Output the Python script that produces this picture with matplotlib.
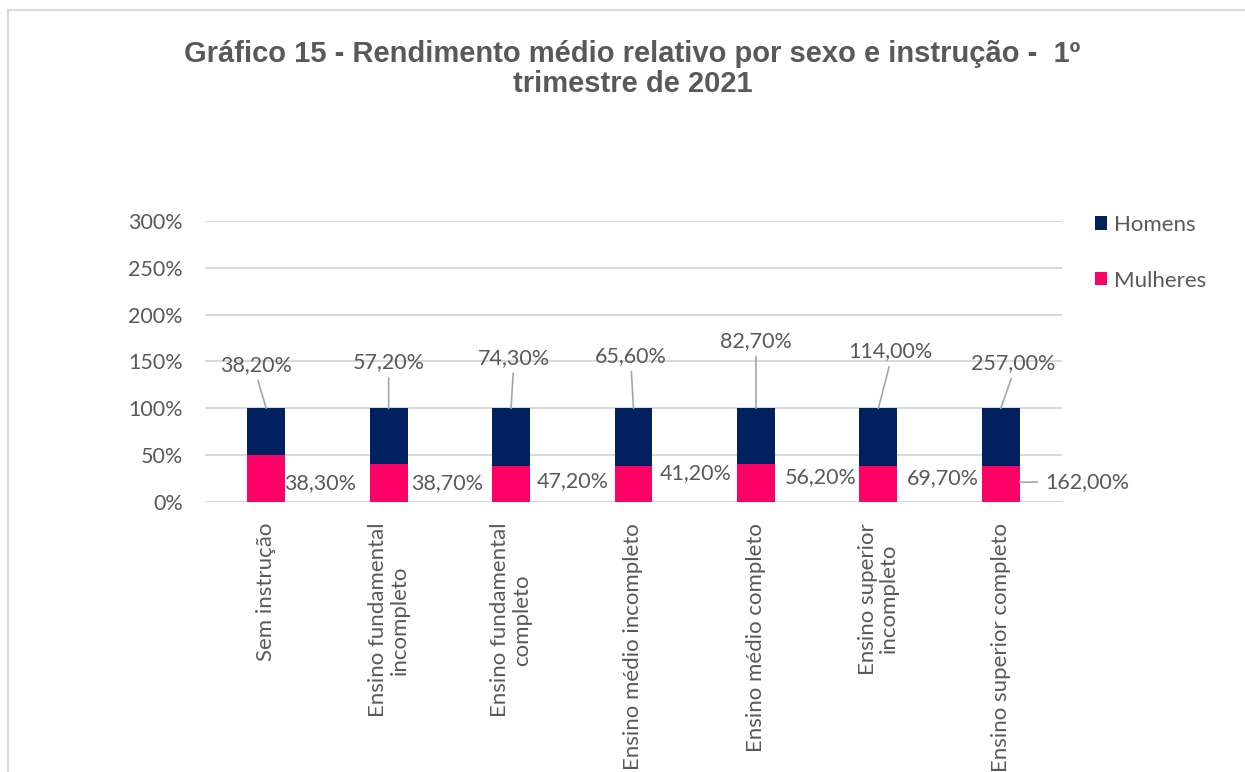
import matplotlib.pyplot as plt
import numpy as np

categorias = ['Sem instrução', 'Ensino fundamental\nincompleto', 'Ensino fundamental\ncompleto',
              'Ensino médio incompleto', 'Ensino médio completo', 'Ensino superior\nincompleto',
              'Ensino superior completo']
homens = [38.20, 57.20, 74.30, 65.60, 82.70, 114.00, 257.00]
mulheres = [38.30, 38.70, 47.20, 41.20, 56.20, 69.70, 162.00]

COR_HOMENS = '#002060'
COR_MULHERES = '#FF0066'
COR_TEXTO = '#595959'
COR_LINHA = '#A6A6A6'
FONTE = 'Lato'
TAM = 15.5


def fmt(v):
    return ('%.2f%%' % v).replace('.', ',')


# posicao dos rotulos: deslocamento em x a partir da barra, altura absoluta no eixo
pos_homens = [(-0.08, 1.46), (0.0, 1.49), (0.02, 1.54), (-0.02, 1.56), (0.0, 1.72), (0.10, 1.61), (0.10, 1.48)]
pos_mulheres = [(0.44, 0.20), (0.48, 0.20), (0.505, 0.225), (0.51, 0.31), (0.53, 0.27), (0.53, 0.26), (0.71, 0.215)]

fig = plt.figure(figsize=(12.45, 7.72), dpi=100)
fig.patches.append(plt.Rectangle((8 / 1245, -0.1), 1.1, 1 - 10 / 772 + 0.1, transform=fig.transFigure,
                                 fill=False, edgecolor='#D9D9D9', linewidth=1.5))
ax = fig.add_axes([205 / 1245, 1 - 502 / 772, 857 / 1245, 281 / 772])

x = np.arange(len(categorias))
total = np.array(homens) + np.array(mulheres)
frac_m = np.array(mulheres) / total
frac_h = np.array(homens) / total

ax.bar(x, frac_m, width=0.31, color=COR_MULHERES, label='Mulheres', zorder=3)
ax.bar(x, frac_h, width=0.31, bottom=frac_m, color=COR_HOMENS, label='Homens', zorder=3)

for i in range(len(categorias)):
    dx, yy = pos_homens[i]
    ax.annotate(fmt(homens[i]), xy=(x[i], 1.0), xytext=(x[i] + dx, yy),
                ha='center', va='center', fontsize=TAM, color=COR_TEXTO, family=FONTE,
                arrowprops=dict(arrowstyle='-', color=COR_LINHA, lw=1.2, relpos=(0.5, 0), shrinkA=2, shrinkB=0))
    dx, yy = pos_mulheres[i]
    if i == len(categorias) - 1:
        ax.annotate(fmt(mulheres[i]), xy=(x[i] + 0.155, 0.21), xytext=(x[i] + dx, yy),
                    ha='center', va='center', fontsize=TAM, color=COR_TEXTO, family=FONTE,
                    arrowprops=dict(arrowstyle='-', color=COR_LINHA, lw=1.2, relpos=(0, 0.5), shrinkA=4, shrinkB=0))
    else:
        ax.text(x[i] + dx, yy, fmt(mulheres[i]), ha='center', va='center',
                fontsize=TAM, color=COR_TEXTO, family=FONTE)

ax.set_xlim(-0.5, len(categorias) - 0.5)
ax.set_ylim(0, 3)
ax.set_yticks(np.arange(0, 3.01, 0.5))
ax.set_yticklabels(['%d%%' % (v * 100) for v in np.arange(0, 3.01, 0.5)], fontsize=TAM, color=COR_TEXTO, family=FONTE)
ax.set_xticks(x)
ax.set_xticklabels(categorias, rotation=90, fontsize=16, color=COR_TEXTO, family=FONTE,
                   va='top', ha='center', multialignment='center', linespacing=1.1)
ax.tick_params(axis='both', length=0)
ax.tick_params(axis='x', pad=15)
ax.tick_params(axis='y', pad=16)
ax.grid(axis='y', color='#D9D9D9', linewidth=1.5, zorder=0)
for s in ax.spines.values():
    s.set_visible(False)

h, l = ax.get_legend_handles_labels()
fig.legend(h[::-1], l[::-1], loc='upper left', bbox_to_anchor=(1075 / 1245, 1 - 195 / 772), frameon=False,
           prop={'family': FONTE, 'size': 16}, labelcolor=COR_TEXTO, handlelength=0.55, handleheight=0.55,
           handletextpad=0.32, labelspacing=1.6)

fig.text(0.508, 1 - 69 / 772, 'Gráfico 15 - Rendimento médio relativo por sexo e instrução -  1º\ntrimestre de 2021',
         ha='center', va='center', fontsize=21, fontweight='bold', color=COR_TEXTO, family='Liberation Sans',
         linespacing=1.1)

fig.savefig('out.png', dpi=100)
